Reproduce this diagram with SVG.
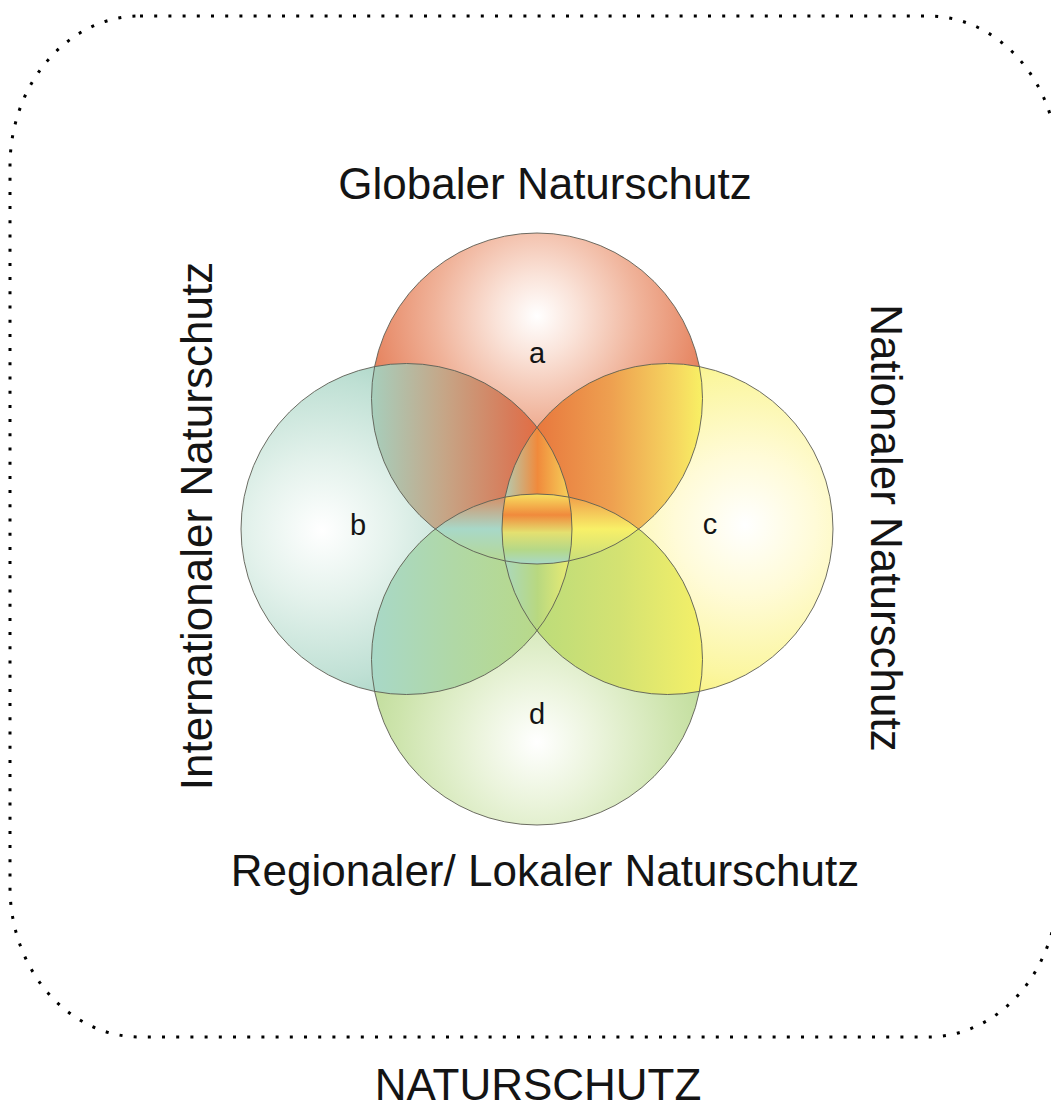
<svg xmlns="http://www.w3.org/2000/svg" width="1051" height="1111" viewBox="0 0 1051 1111">
<style>
text { font-family: "Liberation Sans", Arial, sans-serif; fill: #141414; }
.big { font-size: 44px; text-anchor: middle; }
.lbl { font-size: 29px; text-anchor: middle; }
.ring { fill: none; stroke: #5c5c52; stroke-width: 0.9; }
.border { fill: none; stroke: #000; stroke-width: 3; stroke-dasharray: 3 11.2; }
</style>
<defs>
<radialGradient id="radA" gradientUnits="userSpaceOnUse" cx="537" cy="316" r="205">
<stop offset="0" stop-color="#ffffff"/><stop offset="0.2" stop-color="#fae3d9"/><stop offset="0.5" stop-color="#f0b39a"/><stop offset="1" stop-color="#e06a40"/>
</radialGradient>
<radialGradient id="radB" gradientUnits="userSpaceOnUse" cx="322" cy="530" r="200">
<stop offset="0" stop-color="#ffffff"/><stop offset="0.35" stop-color="#e4f2ec"/><stop offset="0.75" stop-color="#bfe0d4"/><stop offset="1" stop-color="#a2d0c0"/>
</radialGradient>
<radialGradient id="radC" gradientUnits="userSpaceOnUse" cx="745" cy="525" r="200">
<stop offset="0" stop-color="#ffffff"/><stop offset="0.35" stop-color="#fffbd8"/><stop offset="0.75" stop-color="#fbf6a0"/><stop offset="1" stop-color="#f8f070"/>
</radialGradient>
<radialGradient id="radD" gradientUnits="userSpaceOnUse" cx="537" cy="742" r="200">
<stop offset="0" stop-color="#ffffff"/><stop offset="0.3" stop-color="#ebf4dc"/><stop offset="0.7" stop-color="#cde4ac"/><stop offset="1" stop-color="#b8d890"/>
</radialGradient>
<linearGradient id="gAB" gradientUnits="userSpaceOnUse" x1="370" y1="0" x2="537" y2="0">
<stop offset="0" stop-color="#a6cfbd"/><stop offset="0.45" stop-color="#c6a586"/><stop offset="0.85" stop-color="#d87a58"/><stop offset="1" stop-color="#e26e44"/>
</linearGradient>
<linearGradient id="gAC" gradientUnits="userSpaceOnUse" x1="537" y1="0" x2="702" y2="0">
<stop offset="0" stop-color="#e8783e"/><stop offset="0.45" stop-color="#eea050"/><stop offset="0.85" stop-color="#f6d860"/><stop offset="1" stop-color="#f8f064"/>
</linearGradient>
<linearGradient id="gBD" gradientUnits="userSpaceOnUse" x1="370" y1="0" x2="537" y2="0">
<stop offset="0" stop-color="#a8d8c8"/><stop offset="0.5" stop-color="#b0d8a6"/><stop offset="1" stop-color="#b8d98a"/>
</linearGradient>
<linearGradient id="gCD" gradientUnits="userSpaceOnUse" x1="537" y1="0" x2="702" y2="0">
<stop offset="0" stop-color="#bcdc7a"/><stop offset="0.5" stop-color="#d4e272"/><stop offset="1" stop-color="#f4f068"/>
</linearGradient>
<linearGradient id="gBCtop" gradientUnits="userSpaceOnUse" x1="498" y1="0" x2="577" y2="0">
<stop offset="0" stop-color="#a8d8c8"/><stop offset="0.5" stop-color="#f08a3c"/><stop offset="1" stop-color="#f8e060"/>
</linearGradient>
<linearGradient id="gBCbot" gradientUnits="userSpaceOnUse" x1="498" y1="0" x2="577" y2="0">
<stop offset="0" stop-color="#a8d8c8"/><stop offset="0.5" stop-color="#b8d880"/><stop offset="1" stop-color="#f4f070"/>
</linearGradient>
<linearGradient id="gADleft" gradientUnits="userSpaceOnUse" x1="0" y1="494" x2="0" y2="564">
<stop offset="0" stop-color="#d88a60"/><stop offset="0.5" stop-color="#a8d8c8"/><stop offset="1" stop-color="#b8d890"/>
</linearGradient>
<linearGradient id="gADright" gradientUnits="userSpaceOnUse" x1="0" y1="494" x2="0" y2="564">
<stop offset="0" stop-color="#f09848"/><stop offset="0.5" stop-color="#f8f068"/><stop offset="1" stop-color="#c4dc7c"/>
</linearGradient>
<linearGradient id="gCenter" gradientUnits="userSpaceOnUse" x1="0" y1="494" x2="0" y2="564">
<stop offset="0" stop-color="#f8e060"/><stop offset="0.3" stop-color="#f08a3c"/><stop offset="0.55" stop-color="#e4e070"/><stop offset="0.8" stop-color="#b4d888"/><stop offset="1" stop-color="#a8d8c8"/>
</linearGradient>
<clipPath id="clipA"><circle cx="537" cy="398.5" r="165.5"/></clipPath>
<clipPath id="clipB"><circle cx="406.5" cy="529" r="165.5"/></clipPath>
<clipPath id="clipC"><circle cx="667.5" cy="529" r="165.5"/></clipPath>
<clipPath id="clipD"><circle cx="537" cy="659.5" r="165.5"/></clipPath>
</defs>

<rect class="border" x="10" y="16" width="1048" height="1021" rx="130" ry="150"/>

<g id="circle-a"><circle cx="537" cy="398.5" r="165.5" fill="url(#radA)"/></g>
<g id="circle-b"><circle cx="406.5" cy="529" r="165.5" fill="url(#radB)"/></g>
<g id="circle-c"><circle cx="667.5" cy="529" r="165.5" fill="url(#radC)"/></g>
<g id="circle-d"><circle cx="537" cy="659.5" r="165.5" fill="url(#radD)"/></g>

<g id="overlaps">
<g clip-path="url(#clipA)"><circle cx="406.5" cy="529" r="165.5" fill="url(#gAB)"/></g>
<g clip-path="url(#clipA)"><circle cx="667.5" cy="529" r="165.5" fill="url(#gAC)"/></g>
<g clip-path="url(#clipD)"><circle cx="406.5" cy="529" r="165.5" fill="url(#gBD)"/></g>
<g clip-path="url(#clipD)"><circle cx="667.5" cy="529" r="165.5" fill="url(#gCD)"/></g>
<g clip-path="url(#clipB)"><g clip-path="url(#clipC)">
<circle cx="537" cy="398.5" r="165.5" fill="url(#gBCtop)"/>
<circle cx="537" cy="659.5" r="165.5" fill="url(#gBCbot)"/>
</g></g>
<g clip-path="url(#clipA)"><g clip-path="url(#clipD)">
<circle cx="406.5" cy="529" r="165.5" fill="url(#gADleft)"/>
<circle cx="667.5" cy="529" r="165.5" fill="url(#gADright)"/>
<g clip-path="url(#clipB)"><circle cx="667.5" cy="529" r="165.5" fill="url(#gCenter)"/></g>
</g></g>
</g>

<g id="outlines">
<circle class="ring" cx="537" cy="398.5" r="165.5"/>
<circle class="ring" cx="406.5" cy="529" r="165.5"/>
<circle class="ring" cx="667.5" cy="529" r="165.5"/>
<circle class="ring" cx="537" cy="659.5" r="165.5"/>
</g>

<g id="connectors"/>

<g id="labels">
<text class="lbl" x="537" y="363">a</text>
<text class="lbl" x="358" y="535">b</text>
<text class="lbl" x="710" y="534">c</text>
<text class="lbl" x="537" y="724">d</text>
</g>

<g id="titles">
<text class="big" x="545" y="199">Globaler Naturschutz</text>
<text class="big" x="545" y="886">Regionaler/ Lokaler Naturschutz</text>
<text class="big" transform="translate(212,526) rotate(-90)">Internationaler Naturschutz</text>
<text class="big" transform="translate(871,528) rotate(90)">Nationaler Naturschutz</text>
<text class="big" x="538" y="1100">NATURSCHUTZ</text>
</g>
</svg>
